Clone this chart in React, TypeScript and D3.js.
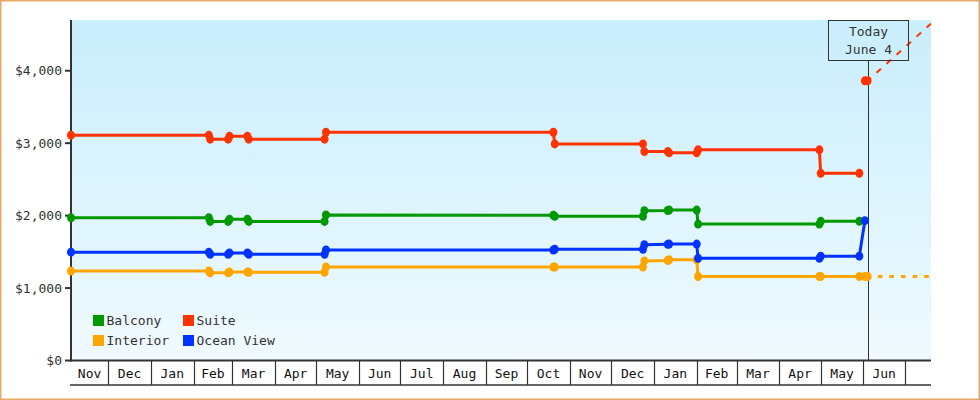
import React, { useEffect, useRef } from "react";
import * as d3 from "d3";

const WIDTH = 980;
const HEIGHT = 400;
const FONT = "'DejaVu Sans Mono', monospace";
const AXIS_COLOR = "#333333";

// observation dates, every price change is a pair (before / after)
const dates = [
  "2022-11-04", "2023-02-12", "2023-02-13", "2023-02-26", "2023-02-27",
  "2023-03-12", "2023-03-13", "2023-05-07", "2023-05-08", "2023-10-20",
  "2023-10-21", "2023-12-24", "2023-12-25", "2024-01-11", "2024-01-12",
  "2024-02-01", "2024-02-02", "2024-04-30", "2024-05-01", "2024-05-29",
];

const balcony = [1970, 1970, 1920, 1920, 1950, 1950, 1920, 1920, 2010, 2005, 1990, 1990, 2068, 2070, 2078, 2078, 1883, 1883, 1922, 1922];
const suite = [3110, 3110, 3055, 3055, 3095, 3095, 3055, 3055, 3150, 3150, 2990, 2990, 2884, 2884, 2866, 2866, 2908, 2908, 2585, 2585];
const interior = [1235, 1235, 1210, 1210, 1220, 1220, 1218, 1218, 1290, 1290, 1290, 1290, 1375, 1380, 1390, 1390, 1160, 1160, 1160, 1160];
const oceanView = [1495, 1495, 1467, 1467, 1485, 1485, 1467, 1467, 1526, 1526, 1536, 1536, 1598, 1603, 1607, 1607, 1410, 1410, 1440, 1440];

// late points after the last common date
const oceanViewLate: [string, number][] = [["2024-06-02", 1930]];
const interiorLate: [string, number][] = [["2024-06-02", 1160], ["2024-06-04", 1160]];
const suiteToday: [string, number][] = [["2024-06-02", 3860], ["2024-06-04", 3860]];

// projections past today
const suiteForecast: [string, number][] = [["2024-06-04", 3860], ["2024-07-20", 4650]];
const interiorForecast: [string, number][] = [["2024-06-04", 1160], ["2024-07-20", 1160]];

const domainStart = "2022-11-04";
const domainEnd = "2024-07-20";
const yMax = 4700;
const yTicks = [0, 1000, 2000, 3000, 4000];
const todayDate = "2024-06-04";
const todayLabel = ["Today", "June 4"];
const legendRows = [["Balcony", "Suite"], ["Interior", "Ocean View"]];

const colors: Record<string, string> = {
  Balcony: "#009900",
  Suite: "#ff3300",
  Interior: "#ffa500",
  "Ocean View": "#0033ff",
};

const zip = (vals: number[]): [string, number][] => dates.map((d, i) => [d, vals[i]]);

const App = () => {
  const ref = useRef<SVGSVGElement>(null);

  useEffect(() => {
    const svg = d3.select(ref.current);
    svg.selectAll("*").remove();

    const left = 71, right = 931, top = 20, bottom = 360.5;

    const x = d3.scaleUtc()
      .domain([new Date(domainStart), new Date(domainEnd)])
      .range([left, right]);
    const y = d3.scaleLinear().domain([0, yMax]).range([bottom, top]);

    const defs = svg.append("defs");
    const grad = defs.append("linearGradient")
      .attr("id", "bg").attr("x1", 0).attr("y1", 0).attr("x2", 0).attr("y2", 1);
    grad.append("stop").attr("offset", "0%").attr("stop-color", "#c9eefc");
    grad.append("stop").attr("offset", "100%").attr("stop-color", "#f0faff");
    defs.append("clipPath").attr("id", "plotclip")
      .append("rect").attr("x", 60).attr("y", top).attr("width", right - 60).attr("height", bottom - top + 6);

    // frame
    svg.append("rect")
      .attr("x", 0.75).attr("y", 0.75)
      .attr("width", WIDTH - 1.5).attr("height", HEIGHT - 1.5)
      .attr("fill", "#fff").attr("stroke", "#e8a966").attr("stroke-width", 1.5);

    // plot background
    svg.append("rect")
      .attr("x", left).attr("y", top)
      .attr("width", right - left).attr("height", bottom - top)
      .attr("fill", "url(#bg)");

    // today line
    const tx = Math.round(x(new Date(todayDate))) + 0.5;
    svg.append("line")
      .attr("x1", tx).attr("x2", tx).attr("y1", 60).attr("y2", bottom)
      .attr("stroke", AXIS_COLOR).attr("stroke-width", 1);

    // left axis
    const yAxis = svg.append("g");
    yAxis.append("line")
      .attr("x1", left).attr("x2", left).attr("y1", top).attr("y2", bottom + 1)
      .attr("stroke", AXIS_COLOR).attr("stroke-width", 2);
    yAxis.selectAll("line.tick")
      .data(yTicks)
      .join("line")
      .attr("class", "tick")
      .attr("x1", 65).attr("x2", left)
      .attr("y1", d => y(d)).attr("y2", d => y(d))
      .attr("stroke", AXIS_COLOR).attr("stroke-width", 2);
    yAxis.selectAll("text")
      .data(yTicks)
      .join("text")
      .attr("x", 62)
      .attr("y", d => y(d) + 4.5)
      .attr("text-anchor", "end")
      .attr("fill", AXIS_COLOR)
      .style("font-family", FONT)
      .style("font-size", "13px")
      .text(d => d3.format("$,")(d));

    // month band axis
    const start = new Date(domainStart), end = new Date(domainEnd);
    const bounds = d3.utcMonth.range(d3.utcMonth.ceil(start), end);
    const edges = [start, ...bounds, end];
    const xAxis = svg.append("g");
    xAxis.append("line")
      .attr("x1", left - 1).attr("x2", right).attr("y1", bottom).attr("y2", bottom)
      .attr("stroke", AXIS_COLOR).attr("stroke-width", 2);
    xAxis.append("line")
      .attr("x1", left - 1).attr("x2", right).attr("y1", 385).attr("y2", 385)
      .attr("stroke", AXIS_COLOR).attr("stroke-width", 1.5);
    xAxis.selectAll("line.sep")
      .data(bounds)
      .join("line")
      .attr("class", "sep")
      .attr("x1", d => Math.round(x(d)) + 0.5).attr("x2", d => Math.round(x(d)) + 0.5)
      .attr("y1", bottom).attr("y2", 385)
      .attr("stroke", AXIS_COLOR).attr("stroke-width", 1.2);
    const cells = d3.pairs(edges).filter(([a, b]) => x(b) - x(a) >= 30);
    xAxis.selectAll("text")
      .data(cells)
      .join("text")
      .attr("x", ([a, b]) => (x(a) + x(b)) / 2)
      .attr("y", 378)
      .attr("text-anchor", "middle")
      .attr("fill", "#111")
      .style("font-family", FONT)
      .style("font-size", "13px")
      .text(([a]) => d3.utcFormat("%b")(a));

    // series
    const series = [
      { name: "Suite", pts: zip(suite) },
      { name: "Balcony", pts: zip(balcony) },
      { name: "Interior", pts: [...zip(interior), ...interiorLate] },
      { name: "Ocean View", pts: [...zip(oceanView), ...oceanViewLate] },
    ];

    const line = d3.line<[string, number]>()
      .x(d => x(new Date(d[0])))
      .y(d => y(d[1]));

    const plot = svg.append("g").attr("clip-path", "url(#plotclip)");

    // forecasts
    plot.append("path")
      .attr("d", line(suiteForecast))
      .attr("fill", "none")
      .attr("stroke", colors.Suite)
      .attr("stroke-width", 2)
      .attr("stroke-dasharray", "6,7.5")
      .attr("stroke-dashoffset", 1.5);
    plot.append("path")
      .attr("d", line(interiorForecast))
      .attr("fill", "none")
      .attr("stroke", colors.Interior)
      .attr("stroke-width", 3)
      .attr("stroke-dasharray", "4.6,7")
      .attr("stroke-dashoffset", 1.4);

    series.forEach(s => {
      plot.append("path")
        .attr("d", line(s.pts))
        .attr("fill", "none")
        .attr("stroke", colors[s.name])
        .attr("stroke-width", 3)
        .attr("stroke-linejoin", "round");
      plot.append("g")
        .selectAll("ellipse")
        .data(s.pts)
        .join("ellipse")
        .attr("cx", d => x(new Date(d[0])))
        .attr("cy", d => y(d[1]))
        .attr("rx", 4).attr("ry", 4.5)
        .attr("fill", colors[s.name]);
    });

    plot.append("g")
      .selectAll("ellipse")
      .data(suiteToday)
      .join("ellipse")
      .attr("cx", d => x(new Date(d[0])))
      .attr("cy", d => y(d[1]))
      .attr("rx", 4).attr("ry", 4.5)
      .attr("fill", colors.Suite);

    // today box
    const box = svg.append("g");
    box.append("rect")
      .attr("x", tx - 40).attr("y", 20.5)
      .attr("width", 80).attr("height", 40)
      .attr("fill", "none")
      .attr("stroke", AXIS_COLOR).attr("stroke-width", 1);
    box.selectAll("text")
      .data(todayLabel)
      .join("text")
      .attr("x", tx)
      .attr("y", (d, i) => 36 + i * 18)
      .attr("text-anchor", "middle")
      .attr("fill", AXIS_COLOR)
      .style("font-family", FONT)
      .style("font-size", "13px")
      .text(d => d);

    // legend
    const legend = svg.append("g");
    legendRows.forEach((row, r) => {
      row.forEach((name, c) => {
        const lx = 93 + c * 90;
        const ly = 315 + r * 20;
        legend.append("rect")
          .attr("x", lx).attr("y", ly)
          .attr("width", 11).attr("height", 11)
          .attr("fill", colors[name]);
        legend.append("text")
          .attr("x", lx + 13.5).attr("y", ly + 10)
          .attr("fill", AXIS_COLOR)
          .style("font-family", FONT)
          .style("font-size", "13px")
          .text(name);
      });
    });
  }, []);

  return (
    <svg
      ref={ref}
      width={WIDTH}
      height={HEIGHT}
      style={{ position: "absolute", left: 0, top: 0, display: "block" }}
    />
  );
};

export default App;
